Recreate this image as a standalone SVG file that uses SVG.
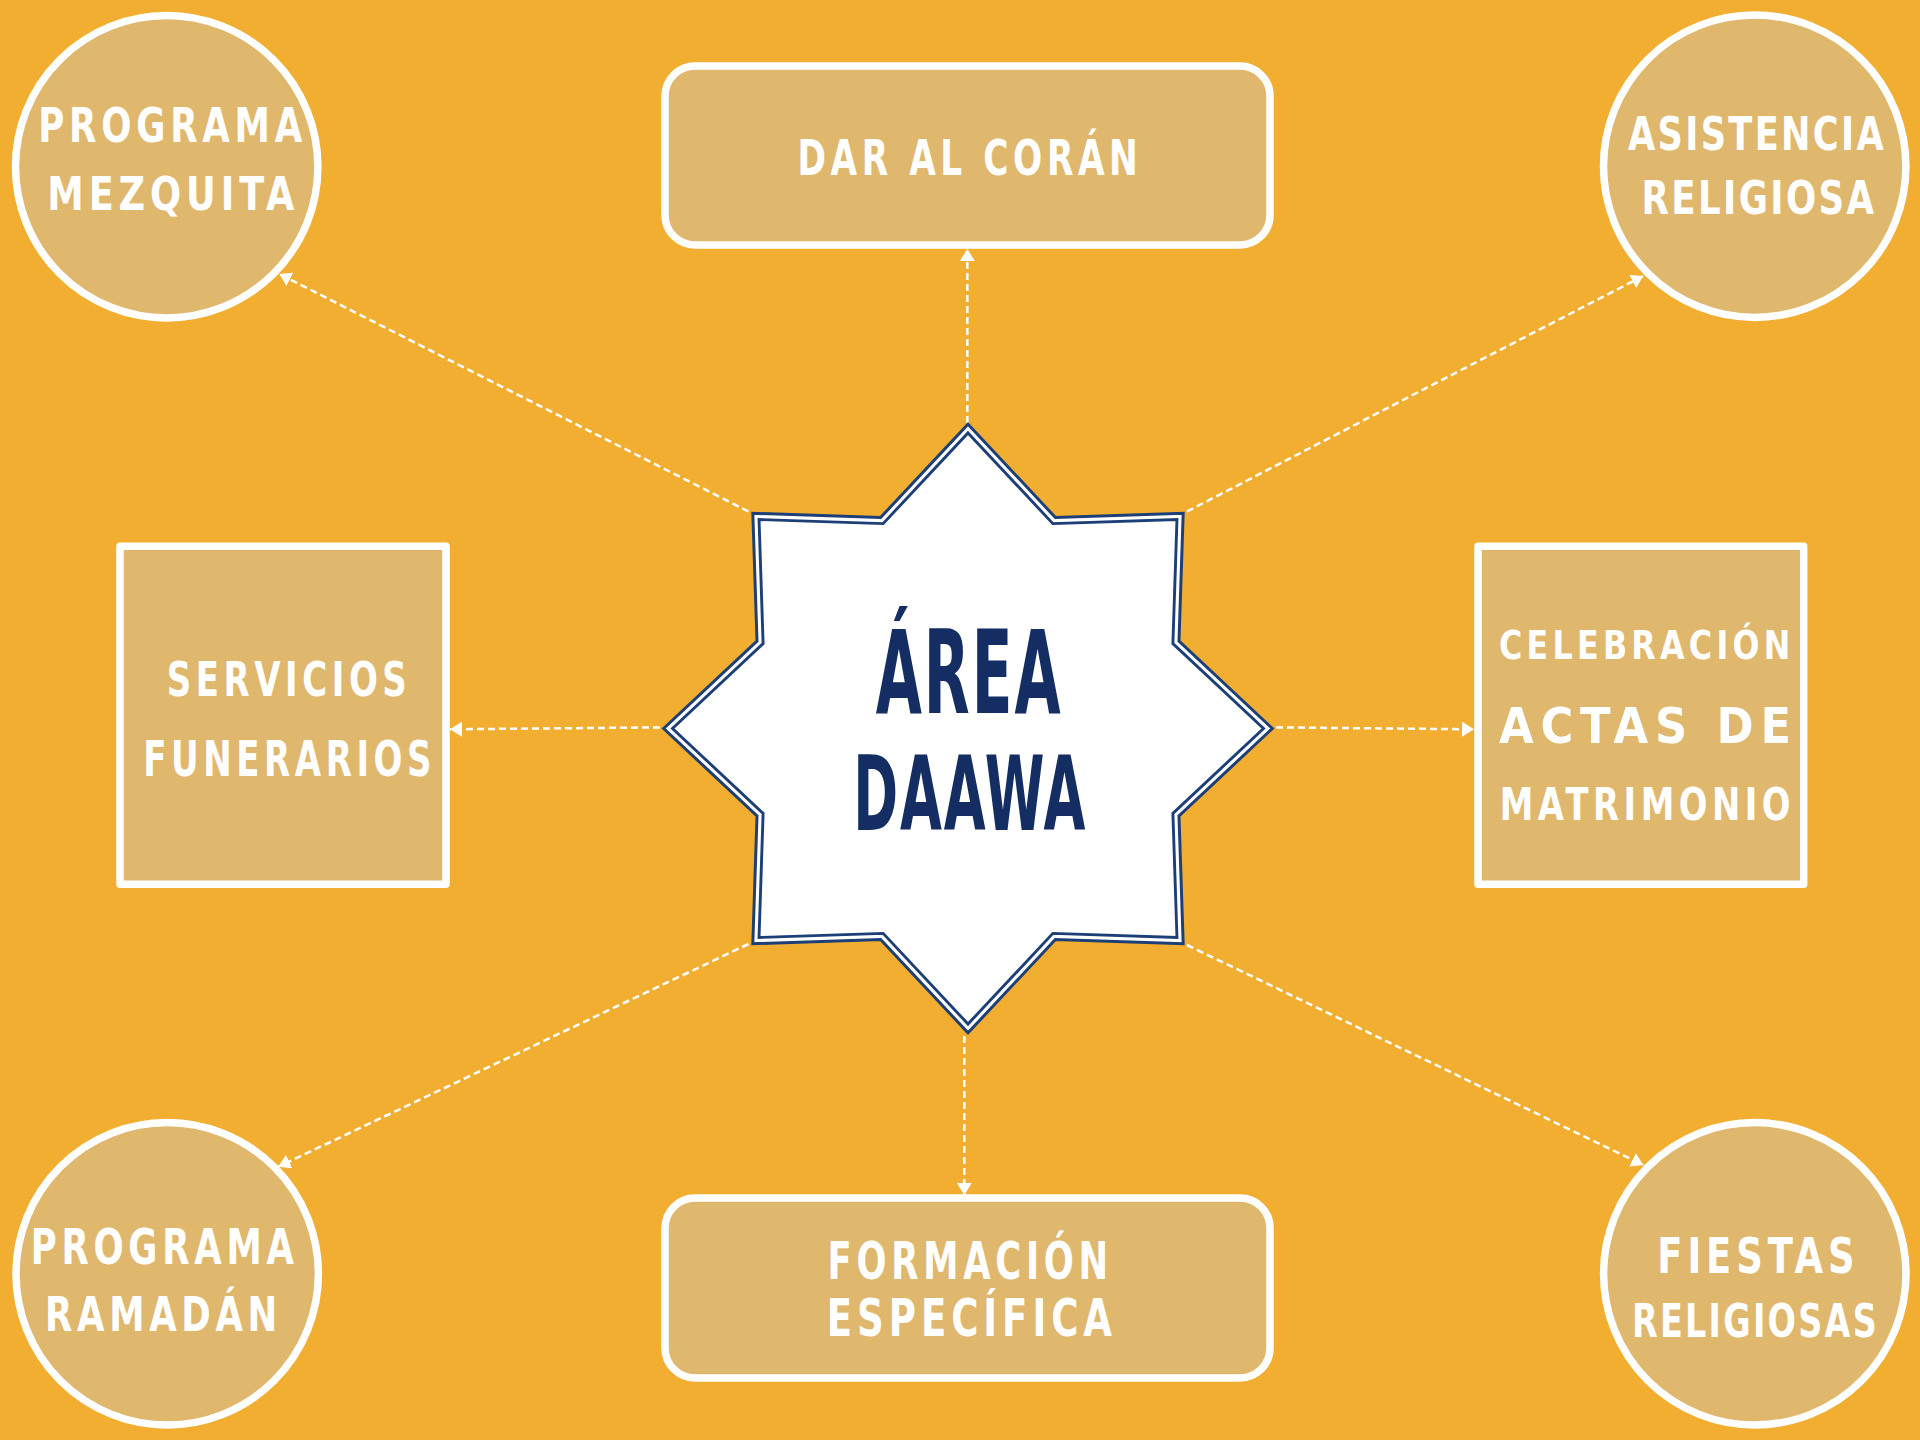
<svg xmlns="http://www.w3.org/2000/svg" xmlns:xlink="http://www.w3.org/1999/xlink" width="1920" height="1440" viewBox="0 0 1920 1440">
  <style>
    .bg { fill: #F2AE30; }
    .node { fill: #DFB76D; stroke: #FFFFFF; stroke-width: 7.5; stroke-linejoin: round; }
    .lbl { font-family: 'Liberation Sans Narrow', 'DejaVu Sans Condensed', 'Liberation Sans', sans-serif; font-weight: 700; fill: #FFFFFF; letter-spacing: 0.12em; }
    .tight { letter-spacing: 0.06em; }
    .just { letter-spacing: 0; }
    .hub { font-family: 'Liberation Sans Narrow', 'DejaVu Sans Condensed', 'Liberation Sans', sans-serif; font-weight: 700; fill: #142D62; letter-spacing: 0.03em; }
    .conn { fill: none; stroke: #FFFFFF; stroke-width: 2.5; stroke-dasharray: 7 4; marker-end: url(#arrow); }
    .starline { stroke: #1D3F78; stroke-width: 3; fill: #FFFFFF; vector-effect: non-scaling-stroke; stroke-linejoin: miter; }
  </style>
  <defs>
    <marker id="arrow" markerUnits="userSpaceOnUse" markerWidth="12" markerHeight="15" viewBox="0 0 12 15" refX="12" refY="7.5" orient="auto">
      <path d="M0,0 L12,7.5 L0,15 Z" fill="#FFFFFF"/>
    </marker>
    <path id="star" d="M0,-306.5 L88.02,-212.49 L216.73,-216.73 L212.49,-88.02 L306.5,0 L212.49,88.02 L216.73,216.73 L88.02,212.49 L0,306.5 L-88.02,212.49 L-216.73,216.73 L-212.49,88.02 L-306.5,0 L-212.49,-88.02 L-216.73,-216.73 L-88.02,-212.49 Z"/>
  </defs>

  <rect class="bg" x="0" y="0" width="1920" height="1440"/>

  <g id="connectors">
    <path class="conn" d="M967.3,423 L967.3,249"/>
    <path class="conn" d="M964.3,1036 L964.3,1195"/>
    <path class="conn" d="M660,727.4 L450,729.3"/>
    <path class="conn" d="M1276,727.4 L1474,729.3"/>
    <path class="conn" d="M748.5,511.5 L279.3,274"/>
    <path class="conn" d="M1187,511.5 L1643.3,276"/>
    <path class="conn" d="M748.5,944 L278.3,1166.7"/>
    <path class="conn" d="M1187,945 L1643.3,1165"/>
  </g>

  <g id="hub">
    <use xlink:href="#star" class="starline" transform="translate(968,728.5) scale(0.9929)"/>
    <use xlink:href="#star" class="starline" transform="translate(968,728.5) scale(0.9642)"/>
    <text class="hub" x="875.7" y="712.5" font-size="115" textLength="187" lengthAdjust="spacingAndGlyphs">ÁREA</text>
    <text class="hub" x="853.3" y="830" font-size="104" textLength="234" lengthAdjust="spacingAndGlyphs">DAAWA</text>
  </g>

  <g id="programa-mezquita">
    <circle class="node" cx="166.7" cy="166.7" r="151.2"/>
    <text class="lbl" x="38.3" y="141.7" font-size="48" textLength="268.7" lengthAdjust="spacingAndGlyphs">PROGRAMA</text>
    <text class="lbl" x="47.3" y="210" font-size="46.5" textLength="251.9" lengthAdjust="spacingAndGlyphs">MEZQUITA</text>
  </g>

  <g id="asistencia-religiosa">
    <circle class="node" cx="1754.7" cy="166.2" r="151.2"/>
    <text class="lbl tight" x="1628" y="150" font-size="46" textLength="258" lengthAdjust="spacingAndGlyphs">ASISTENCIA</text>
    <text class="lbl tight" x="1641.5" y="214.3" font-size="45.5" textLength="235" lengthAdjust="spacingAndGlyphs">RELIGIOSA</text>
  </g>

  <g id="programa-ramadan">
    <circle class="node" cx="167.2" cy="1273.8" r="151.2"/>
    <text class="lbl" x="30.7" y="1264" font-size="49" textLength="268" lengthAdjust="spacingAndGlyphs">PROGRAMA</text>
    <text class="lbl" x="45" y="1330.7" font-size="47.5" textLength="237" lengthAdjust="spacingAndGlyphs">RAMADÁN</text>
  </g>

  <g id="fiestas-religiosas">
    <circle class="node" cx="1754.8" cy="1273.8" r="151.2"/>
    <text class="lbl" x="1657.3" y="1273.3" font-size="50" textLength="202.2" lengthAdjust="spacingAndGlyphs">FIESTAS</text>
    <text class="lbl tight" x="1632" y="1337.3" font-size="46" textLength="247" lengthAdjust="spacingAndGlyphs">RELIGIOSAS</text>
  </g>

  <g id="dar-al-coran">
    <rect class="node" x="665" y="66" width="605" height="179" rx="30"/>
    <text class="lbl" x="797.4" y="175" font-size="49" textLength="345" lengthAdjust="spacingAndGlyphs">DAR AL CORÁN</text>
  </g>

  <g id="formacion-especifica">
    <rect class="node" x="665" y="1198" width="605" height="180" rx="30"/>
    <text class="lbl" x="827.6" y="1279.3" font-size="51" textLength="285.3" lengthAdjust="spacingAndGlyphs">FORMACIÓN</text>
    <text class="lbl" x="826.8" y="1335.7" font-size="51" textLength="290.2" lengthAdjust="spacingAndGlyphs">ESPECÍFICA</text>
  </g>

  <g id="servicios-funerarios">
    <rect class="node" x="120" y="546.3" width="326" height="338"/>
    <text class="lbl" x="166.7" y="695.7" font-size="48.5" textLength="244.7" lengthAdjust="spacingAndGlyphs">SERVICIOS</text>
    <text class="lbl" x="143.3" y="776" font-size="49" textLength="292.8" lengthAdjust="spacingAndGlyphs">FUNERARIOS</text>
  </g>

  <g id="celebracion-actas">
    <rect class="node" x="1478" y="546.3" width="325.7" height="338"/>
    <text class="lbl" x="1499" y="659.3" font-size="38.7" textLength="295.5" lengthAdjust="spacingAndGlyphs">CELEBRACIÓN</text>
    <text class="lbl just" x="1499" y="743.3" font-size="49.7" textLength="292" lengthAdjust="spacing">ACTAS DE</text>
    <text class="lbl" x="1499.7" y="820" font-size="44.3" textLength="295.3" lengthAdjust="spacingAndGlyphs">MATRIMONIO</text>
  </g>
</svg>
